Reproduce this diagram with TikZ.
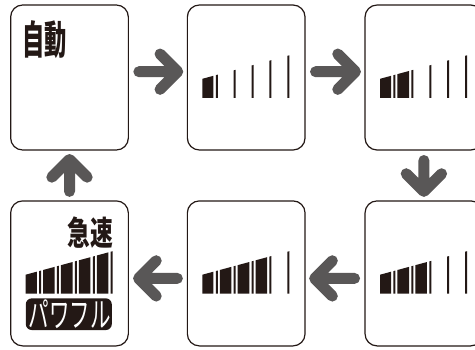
\documentclass[tikz,border=0pt]{standalone}
\usepackage{fontspec}
\usepackage{graphicx}
\newfontfamily\jp{Noto Sans CJK JP}
\usetikzlibrary{calc}
\definecolor{ink}{HTML}{231815}
\definecolor{arrgray}{HTML}{595757}
\tikzset{
  panel/.style={draw=ink, line width=1.2pt, rounded corners=12pt, minimum width=117.7pt, minimum height=145pt, inner sep=0pt, outer sep=0pt},
  arr/.style={draw=arrgray, line width=11pt, line cap=round, line join=round},
  barc/.style={fill=ink},
  lbl/.style={inner sep=0pt, outer sep=0pt, text=ink},
}
\newcommand\lvls[2]{%
  \begin{scope}[shift={(#1.north west)}]
  \foreach \i in {1,...,5}{
    \pgfmathsetmacro\T{29.4+17.9*(\i-1)}
    \fill[barc] ({\T-1},92.8) -- ({\T-1},{92.8-(19+0.27*(\T-16))}) -- ({\T+1},{92.8-(19+0.27*(\T-14))}) -- ({\T+1},92.8) -- cycle;
    \ifnum\i>#2\relax\else
      \pgfmathsetmacro\xa{\i==1 ? 15 : \T-17.9+3}
      \pgfmathsetmacro\xb{\T-3.3}
      \fill[barc] (\xa,92.8) -- (\xa,{92.8-(19+0.27*(\xa-15))}) -- (\xb,{92.8-(19+0.27*(\xb-15))}) -- (\xb,92.8) -- cycle;
    \fi
  }
  \end{scope}}
\newcommand\bigarr[2]{\draw[arr] (#1) -- (#2) ($(#2)!25pt!45:(#1)$) -- (#2) -- ($(#2)!25pt!-45:(#1)$);}
\begin{document}
\begin{tikzpicture}[x=1pt,y=-1pt]
\clip (0,0) rectangle (475,349);
\fill[white] (0,0) rectangle (475,349);
% panels
\node[panel] (b1) at (69.5,77.5) {};
\node[panel] (b2) at (246.2,77.5) {};
\node[panel] (b3) at (423.9,77.5) {};
\node[panel] (b4) at (69.5,273.4) {};
\node[panel] (b5) at (246.2,273.4) {};
\node[panel] (b6) at (423.9,273.4) {};
% levels
\lvls{b2}{1}
\lvls{b3}{2}
\lvls{b6}{3}
\lvls{b5}{4}
\lvls{b4}{5}
% texts
\node[lbl] (t1) at (44.3,40) {\resizebox*{44.5pt}{38pt}{\jp\bfseries 自動}};
\node[lbl] (t2) at (90.5,232.8) {\resizebox*{45.5pt}{31.5pt}{\jp\bfseries 急速}};
\node[fill=ink, rounded corners=6pt, minimum width=86pt, minimum height=31.7pt, inner sep=0pt, outer sep=0pt] (pw) at (68.8,314.2) {};
\node[inner sep=0pt, text=white] (t3) at (70,314.5) {\resizebox*{82pt}{29pt}{\jp パワフル}};
% arrows
\coordinate (a1s) at ($(b1.east)+(10.5,-5.8)$);
\coordinate (a1t) at ($(b2.west)+(-9.6,-5.8)$);
\coordinate (a2s) at ($(b2.east)+(10.5,-5.8)$);
\coordinate (a2t) at ($(b3.west)+(-9.6,-5.8)$);
\coordinate (a3s) at ($(b3.south)+(0,10.5)$);
\coordinate (a3t) at ($(b6.north)+(0,-9.5)$);
\coordinate (a4s) at ($(b6.west)+(-10.5,5)$);
\coordinate (a4t) at ($(b5.east)+(9.6,5)$);
\coordinate (a5s) at ($(b5.west)+(-10,5)$);
\coordinate (a5t) at ($(b4.east)+(10.2,5)$);
\coordinate (a6s) at ($(b4.north)+(0,-9.5)$);
\coordinate (a6t) at ($(b1.south)+(0,9.5)$);
\bigarr{a1s}{a1t}
\bigarr{a2s}{a2t}
\bigarr{a3s}{a3t}
\bigarr{a4s}{a4t}
\bigarr{a5s}{a5t}
\bigarr{a6s}{a6t}
\end{tikzpicture}
\end{document}
